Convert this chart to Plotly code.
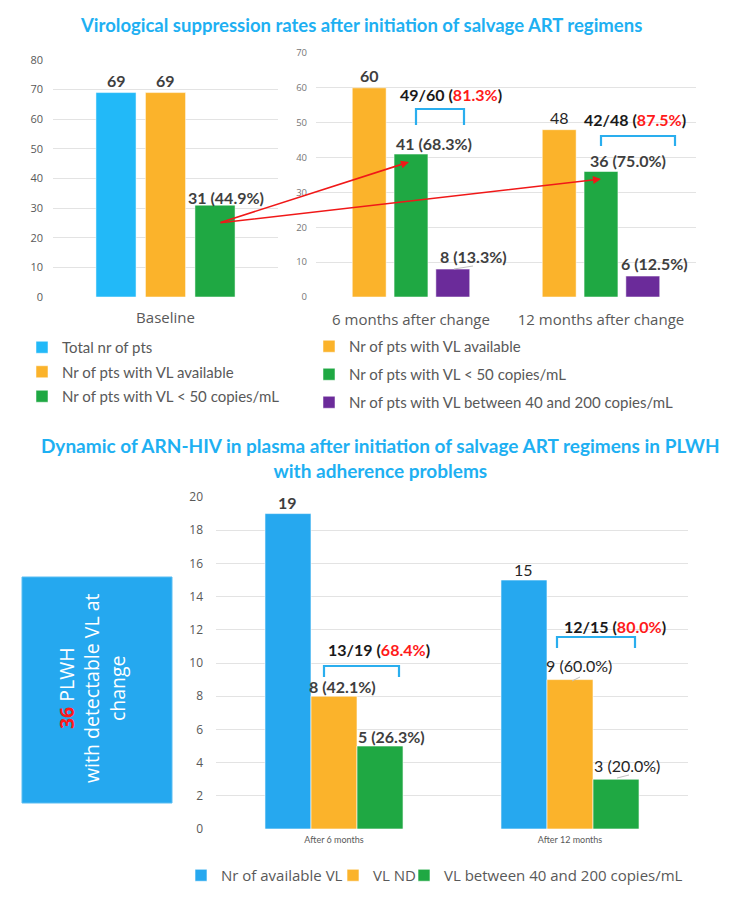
import plotly.graph_objects as go

# ---------------- data ----------------
baseline_cats = ["Baseline"]
total_pts = [69]
vl_available_base = [69]
vl_lt50_base = [31]

followup_cats = ["6 months after change", "12 months after change"]
vl_available_fu = [60, 48]
vl_lt50_fu = [41, 36]
vl_40_200_fu = [8, 6]
fu_bracket_num = [49, 42]
fu_bracket_den = [60, 48]
fu_bracket_pct = ["81.3%", "87.5%"]

adh_cats = ["After 6 months", "After 12 months"]
adh_available = [19, 15]
adh_nd = [8, 9]
adh_40_200 = [5, 3]
adh_bracket_num = [13, 12]
adh_bracket_den = [19, 15]
adh_bracket_pct = ["68.4%", "80.0%"]

detectable_total = 36

# ---------------- style ----------------
W, H = 749, 918
def px(x): return x / W
def py(y): return 1 - y / H

BLUE_TOP = "#22B9F8"
ORANGE = "#FBB32B"
GREEN = "#1FA843"
PURPLE = "#6B2B9A"
BLUE_BOT = "#26A8EF"
BRACKET = "#2AAEEE"
GRID = "#E3E3E3"
GRAY = "#595959"
DARK = "#3F3F3F"
TITLE = "#1EB0F2"
CAL = "Lato, Carlito, sans-serif"
SEG = "Open Sans, sans-serif"

def group_geom(n, gap, ggap):
    slot = (1 - gap) / n
    width = slot * (1 - ggap)
    offsets = [-(1 - gap) / 2 + i * slot + slot * ggap / 2 for i in range(n)]
    centers = [o + width / 2 for o in offsets]
    return width, offsets, centers

fig = go.Figure()

# ---- top-left: baseline ----
w1, off1, cen1 = group_geom(3, 0.34, 0.19)
series1 = [("Total nr of pts", total_pts, BLUE_TOP),
           ("Nr of pts with VL available", vl_available_base, ORANGE),
           ("Nr of pts with VL < 50 copies/mL", vl_lt50_base, GREEN)]
for i, (nm, vals, col) in enumerate(series1):
    fig.add_trace(go.Bar(x=baseline_cats, y=vals, name=nm, marker_color=col,
                         marker_line=dict(width=1, color="rgba(255,255,255,0.5)"),
                         width=w1, offset=off1[i], xaxis="x", yaxis="y",
                         legend="legend", legendgroup="tl%d" % i, hoverinfo="y"))

# ---- top-right: follow-up ----
w2, off2, cen2 = group_geom(3, 0.34, 0.19)
series2 = [("Nr of pts with VL available", vl_available_fu, ORANGE),
           ("Nr of pts with VL < 50 copies/mL", vl_lt50_fu, GREEN),
           ("Nr of pts with VL between 40 and 200 copies/mL", vl_40_200_fu, PURPLE)]
for i, (nm, vals, col) in enumerate(series2):
    fig.add_trace(go.Bar(x=followup_cats, y=vals, name=nm, marker_color=col,
                         marker_line=dict(width=1, color="rgba(255,255,255,0.5)"),
                         width=w2, offset=off2[i], xaxis="x2", yaxis="y2",
                         legend="legend2", legendgroup="tr%d" % i, hoverinfo="y"))

# ---- bottom: adherence ----
w3, off3, cen3 = group_geom(3, 0.415, 0.0)
series3 = [("Nr of available VL", adh_available, BLUE_BOT),
           ("VL ND", adh_nd, ORANGE),
           ("VL between 40 and 200 copies/mL", adh_40_200, GREEN)]
bottom_legends = ["legend3", "legend4", "legend5"]
for i, (nm, vals, col) in enumerate(series3):
    fig.add_trace(go.Bar(x=adh_cats, y=vals, name=nm, marker_color=col,
                         marker_line=dict(width=1, color="rgba(255,255,255,0.6)"),
                         width=w3, offset=off3[i], xaxis="x3", yaxis="y3",
                         legend=bottom_legends[i], hoverinfo="y"))

ann = []
shapes = []

def vlabel(xref, yref, xpos, yval, text, xshift=0, yshift=12, size=16, bold=True, color=DARK):
    t = "<b>%s</b>" % text if bold else text
    ann.append(dict(xref=xref, yref=yref, x=xpos, y=yval, text=t, showarrow=False,
                    xanchor="center", yanchor="middle", xshift=xshift, yshift=yshift,
                    font=dict(family=CAL, size=size, color=color)))

# top-left labels
vlabel("x", "y", cen1[0], total_pts[0], str(total_pts[0]))
vlabel("x", "y", cen1[1], vl_available_base[0], str(vl_available_base[0]))
vlabel("x", "y", cen1[2], vl_lt50_base[0],
       "%d (%.1f%%)" % (vl_lt50_base[0], 100 * vl_lt50_base[0] / vl_available_base[0]),
       xshift=11, yshift=8)

# top-right labels
lt50_shift = [23, 27]
mid_shift = [21, 12]
for j in range(2):
    vlabel("x2", "y2", j + cen2[0], vl_available_fu[j], str(vl_available_fu[j]),
           bold=(j == 0), color=DARK if j == 0 else "#262626", yshift=12)
    vlabel("x2", "y2", j + cen2[1], vl_lt50_fu[j],
           "%d (%.1f%%)" % (vl_lt50_fu[j], 100 * vl_lt50_fu[j] / vl_available_fu[j]),
           xshift=lt50_shift[j], yshift=11)
    vlabel("x2", "y2", j + cen2[2], vl_40_200_fu[j],
           "%d (%.1f%%)" % (vl_40_200_fu[j], 100 * vl_40_200_fu[j] / vl_available_fu[j]),
           xshift=mid_shift[j], yshift=13)

# bottom labels
nd_shift = [8, 9]
g_shift = [11, 11]
for j in range(2):
    b = (j == 0)
    c = DARK if b else "#262626"
    vlabel("x3", "y3", j + cen3[0], adh_available[j], str(adh_available[j]),
           bold=b, color=c, yshift=11)
    vlabel("x3", "y3", j + cen3[1], adh_nd[j],
           "%d (%.1f%%)" % (adh_nd[j], 100 * adh_nd[j] / adh_available[j]),
           xshift=nd_shift[j], yshift=10 if b else 14, bold=b, color=c)
    vlabel("x3", "y3", j + cen3[2], adh_40_200[j],
           "%d (%.1f%%)" % (adh_40_200[j], 100 * adh_40_200[j] / adh_available[j]),
           xshift=g_shift[j], yshift=10 if b else 14, bold=b, color=c)

# tiny grey leader lines next to some labels
for (x0, y0, x1, y1) in [(454, 269, 473, 266), (572, 681, 580, 677), (617, 778, 629, 775)]:
    shapes.append(dict(type="line", xref="paper", yref="paper",
                       x0=px(x0), y0=py(y0), x1=px(x1), y1=py(y1),
                       line=dict(color="#BFBFBF", width=1)))

# brackets with fraction labels (pixel layout)
def bracket(x1, x2, ytop, ybot, tx, ty, num, den, pct):
    shapes.append(dict(type="path", xref="paper", yref="paper",
                       path="M %f,%f L %f,%f L %f,%f L %f,%f" % (px(x1), py(ybot), px(x1), py(ytop),
                                                              px(x2), py(ytop), px(x2), py(ybot)),
                       line=dict(color=BRACKET, width=2.2)))
    ann.append(dict(xref="paper", yref="paper", x=px(tx), y=py(ty), showarrow=False,
                    xanchor="center", yanchor="middle",
                    text="<b>%d/%d (<span style='color:#FF1A1A'>%s</span>)</b>" % (num, den, pct),
                    font=dict(family=CAL, size=16, color="#1A1A1A")))

bracket(416, 464, 109, 125, 451, 94, fu_bracket_num[0], fu_bracket_den[0], fu_bracket_pct[0])
bracket(601, 675, 136, 146, 635, 120, fu_bracket_num[1], fu_bracket_den[1], fu_bracket_pct[1])
bracket(324, 399, 666, 677, 379, 649, adh_bracket_num[0], adh_bracket_den[0], adh_bracket_pct[0])
bracket(557, 635, 637, 648, 615, 626, adh_bracket_num[1], adh_bracket_den[1], adh_bracket_pct[1])

# red arrows from baseline suppression to follow-up suppression
for (hx, hy) in [(409, 162), (601, 179)]:
    ann.append(dict(xref="paper", yref="paper", x=px(hx), y=py(hy), text="",
                    showarrow=True, arrowhead=2, arrowsize=1, arrowwidth=1.6,
                    arrowcolor="#F01818", ax=219 - hx, ay=223 - hy, standoff=0))

# titles
ann.append(dict(xref="paper", yref="paper", x=px(361), y=py(25), showarrow=False,
                text="<b>Virological suppression rates after initiation of salvage ART regimens</b>",
                font=dict(family=CAL, size=18.5, color=TITLE), xanchor="center", yanchor="middle"))
ann.append(dict(xref="paper", yref="paper", x=px(380), y=py(458), showarrow=False,
                text="<b>Dynamic of ARN-HIV in plasma after initiation of salvage ART regimens in PLWH"
                     "<br>with adherence problems</b>",
                font=dict(family=CAL, size=19, color=TITLE), xanchor="center", yanchor="middle"))

# side box
shapes.append(dict(type="rect", xref="paper", yref="paper", x0=px(22), x1=px(172),
                   y0=py(803), y1=py(577), fillcolor="#25A8EF",
                   line=dict(color="#5BBDF2", width=1), layer="below"))
ann.append(dict(xref="paper", yref="paper", x=px(92), y=py(689), showarrow=False,
                textangle=-90, xanchor="center", yanchor="middle",
                text="<b><span style='color:#FF1A1A'>%d</span></b> PLWH<br>with detectable VL at<br>change"
                     % detectable_total,
                font=dict(family=SEG, size=19.5, color="white")))

axis_common = dict(showline=False, zeroline=False, ticks="", automargin=False)
bottom_leg = dict(yanchor="top", xanchor="left", orientation="h",
                  font=dict(family=SEG, size=15, color=GRAY), bgcolor="rgba(0,0,0,0)")
fig.update_layout(
    width=W, height=H, margin=dict(l=0, r=0, t=0, b=0, autoexpand=False),
    paper_bgcolor="white", plot_bgcolor="white", barmode="overlay",
    showlegend=True,
    xaxis=dict(domain=[px(53), px(278)], anchor="y", type="category",
               range=[-0.5, 0.5], showgrid=False,
               tickfont=dict(family=SEG, size=15, color=GRAY), ticklabelstandoff=10, **axis_common),
    yaxis=dict(domain=[py(297), py(60)], anchor="x", range=[0, 80], dtick=10,
               gridcolor=GRID, tickfont=dict(family=SEG, size=11, color=GRAY),
               ticklabelstandoff=9, **axis_common),
    xaxis2=dict(domain=[px(316), px(696)], anchor="y2", type="category",
                range=[-0.5, 1.5], showgrid=False,
                tickfont=dict(family=SEG, size=15, color=GRAY), ticklabelstandoff=12, **axis_common),
    yaxis2=dict(domain=[py(297), py(53)], anchor="x2", range=[0, 70], dtick=10,
                gridcolor=GRID, tickfont=dict(family=SEG, size=9.5, color="#767676"),
                ticklabelstandoff=8, **axis_common),
    xaxis3=dict(domain=[px(216), px(688)], anchor="y3", type="category",
                range=[-0.5, 1.5], showgrid=False,
                tickfont=dict(family=CAL, size=9, color=GRAY), ticklabelstandoff=4, **axis_common),
    yaxis3=dict(domain=[py(829), py(497)], anchor="x3", range=[0, 20], dtick=2,
                gridcolor=GRID, tickfont=dict(family=SEG, size=12, color=GRAY),
                ticklabelstandoff=12, **axis_common),
    legend=dict(x=px(22), y=py(331), xanchor="left", yanchor="top", orientation="v",
                font=dict(family=CAL, size=15, color=GRAY), tracegroupgap=2,
                bgcolor="rgba(0,0,0,0)"),
    legend2=dict(x=px(309), y=py(330), xanchor="left", yanchor="top", orientation="v",
                 font=dict(family=CAL, size=15, color=GRAY), tracegroupgap=5.5,
                 bgcolor="rgba(0,0,0,0)"),
    legend3=dict(x=px(181), y=py(859), **bottom_leg),
    legend4=dict(x=px(333), y=py(859), **bottom_leg),
    legend5=dict(x=px(404), y=py(859), **bottom_leg),
    annotations=ann, shapes=shapes,
)

fig.write_html("out.html", config={"displayModeBar": False},
               post_script="document.documentElement.style.margin='0px';"
                           "document.body.style.margin='0px';"
                           "document.body.style.overflow='hidden';")
